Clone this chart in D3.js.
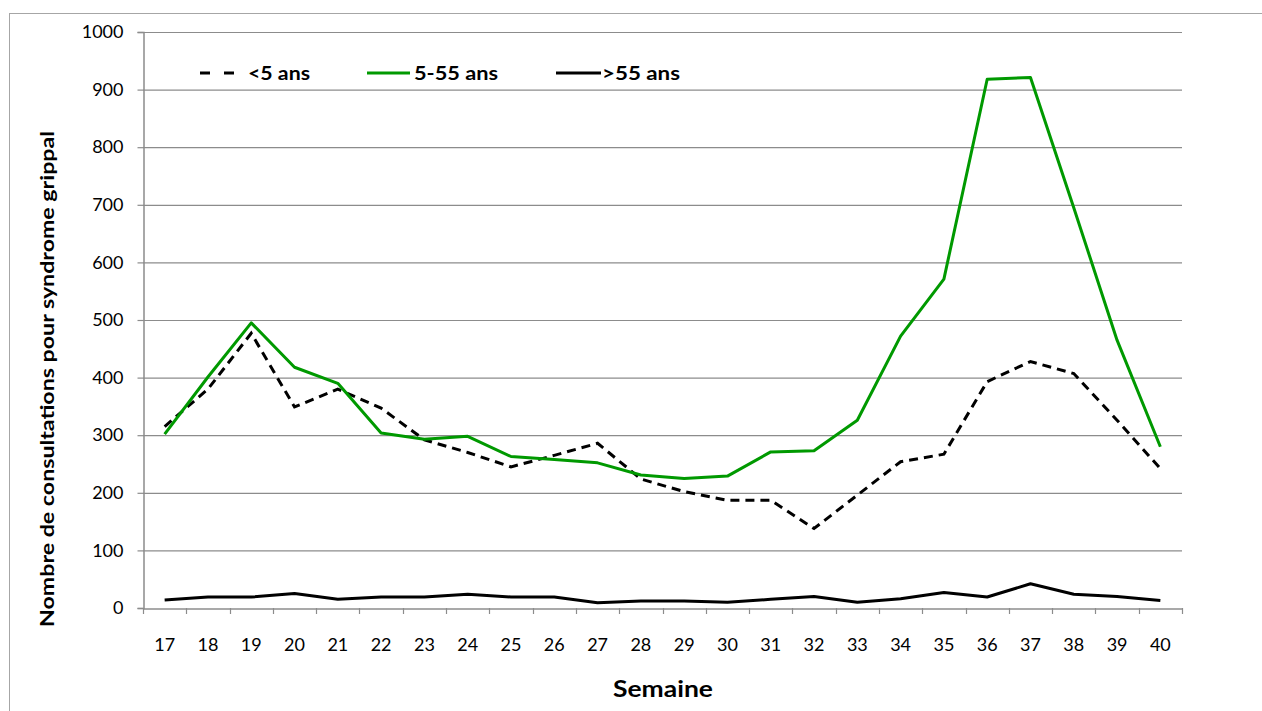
<!DOCTYPE html>
<html><head><meta charset="utf-8">
<script src="https://cdn.jsdelivr.net/npm/d3@7"></script>
<style>body{margin:0;background:#fff}svg{display:block}text{font-family:Lato,"Liberation Sans",sans-serif}</style>
</head><body><svg id="c" width="1262" height="711"></svg>
<script>
const weeks = ["17","18","19","20","21","22","23","24","25","26","27","28","29","30","31","32","33","34","35","36","37","38","39","40"];
const under5 = [315,380,477,349,380,347,292,270,245,265,286,224,202,187,187,138,196,254,267,393,428,407,326,242];
const age5to55 = [302,401,495,418,390,304,293,298,263,258,252,231,225,229,271,273,326,472,571,918,921,695,465,280];
const over55 = [14,19,19,25,15,19,19,24,19,19,9,12,12,10,15,20,10,16,27,19,42,24,20,13];
const yTicks = [0,100,200,300,400,500,600,700,800,900,1000];
const seriesNames = ["<5 ans","5-55 ans",">55 ans"];

const svg = d3.select("#c");
const L=143,R=1182,T=32,B=608;
svg.append("rect").attr("x",9.5).attr("y",13.5).attr("width",1300).attr("height",800)
  .attr("fill","none").attr("stroke","#a6a6a6").attr("stroke-width",1);

const x = d3.scaleBand().domain(weeks).range([L,R]).padding(0);
const y = d3.scaleLinear().domain([0,1000]).range([B,T]);

// gridlines
svg.append("g").selectAll("line").data(yTicks.filter(d=>d>0)).join("line")
  .attr("x1",L).attr("x2",R).attr("y1",d=>y(d)+0.5).attr("y2",d=>y(d)+0.5)
  .attr("stroke","#8c8c8c").attr("stroke-width",1.2);

// y axis
const ya = svg.append("g").attr("transform",`translate(${L+0.5},0)`)
  .call(d3.axisLeft(y).tickValues(yTicks).tickFormat(d3.format("d")).tickSize(6).tickPadding(14));
ya.select(".domain").attr("stroke","#8c8c8c").attr("stroke-width",1.5);
ya.selectAll(".tick line").attr("stroke","#8c8c8c").attr("stroke-width",1.2);
ya.selectAll("text").attr("font-size",18).attr("fill","#000").attr("font-family","Lato");

// x axis
const xa = svg.append("g").attr("transform",`translate(0,${B+0.5})`)
  .call(d3.axisBottom(x).tickSize(0).tickPadding(30));
xa.select(".domain").attr("stroke","#8c8c8c").attr("stroke-width",1.5);
xa.selectAll("text").attr("font-size",18).attr("fill","#000").attr("font-family","Lato");
// boundary ticks
const bounds = weeks.map(w=>x(w)).concat([x(weeks[weeks.length-1])+x.bandwidth()]);
svg.append("g").selectAll("line").data(bounds).join("line")
  .attr("x1",d=>Math.round(d)+0.5).attr("x2",d=>Math.round(d)+0.5).attr("y1",B).attr("y2",B+6)
  .attr("stroke","#8c8c8c").attr("stroke-width",1.2);

const cx = d=>x(d)+x.bandwidth()/2;
const line = d3.line().x((d,i)=>cx(weeks[i])).y(d=>y(d));

svg.append("path").datum(under5).attr("d",line).attr("fill","none")
  .attr("stroke","#000").attr("stroke-width",3).attr("stroke-dasharray","9,6");
svg.append("path").datum(age5to55).attr("d",line).attr("fill","none")
  .attr("stroke","#009900").attr("stroke-width",3).attr("stroke-linejoin","round");
svg.append("path").datum(over55).attr("d",line).attr("fill","none")
  .attr("stroke","#000").attr("stroke-width",3).attr("stroke-linejoin","round");

// legend
const leg = [
  {name:seriesNames[0],x1:200,x2:234,tx:248,len:62,color:"#000",dash:"10,14"},
  {name:seriesNames[1],x1:367,x2:410,tx:414,len:84,color:"#009900",dash:null},
  {name:seriesNames[2],x1:556,x2:601,tx:602,len:78,color:"#000",dash:null}
];
const lg = svg.append("g");
leg.forEach(d=>{
  lg.append("line").attr("x1",d.x1).attr("x2",d.x2).attr("y1",73).attr("y2",73)
    .attr("stroke",d.color).attr("stroke-width",3).attr("stroke-dasharray",d.dash);
  lg.append("text").attr("x",d.tx).attr("y",80).attr("font-size",19).attr("font-weight","bold")
    .attr("textLength",d.len).attr("lengthAdjust","spacingAndGlyphs").text(d.name);
});

// axis titles
svg.append("text").attr("transform","translate(54,379) rotate(-90)").attr("text-anchor","middle")
  .attr("font-size",19).attr("font-weight","bold")
  .attr("textLength",496).attr("lengthAdjust","spacingAndGlyphs")
  .text("Nombre de consultations  pour syndrome grippal");
svg.append("text").attr("x",663).attr("y",697).attr("text-anchor","middle")
  .attr("font-size",23).attr("font-weight","bold")
  .attr("textLength",100).attr("lengthAdjust","spacingAndGlyphs").text("Semaine");
</script></body></html>
